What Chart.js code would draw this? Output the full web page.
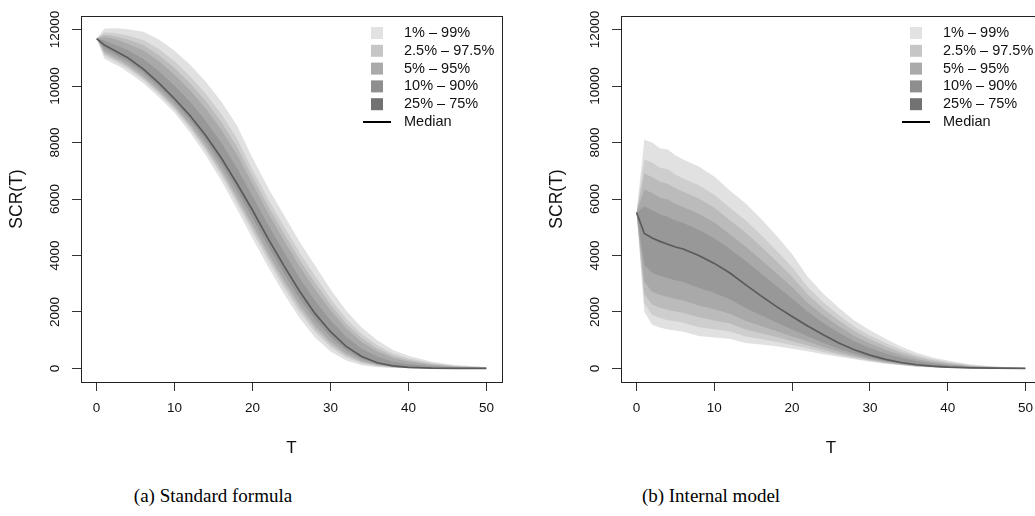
<!DOCTYPE html>
<html>
<head>
<meta charset="utf-8">
<title>SCR fan charts</title>
<script src="https://cdn.jsdelivr.net/npm/chart.js@4.4.1/dist/chart.umd.min.js"></script>
<style>
  body { margin: 0; width: 1035px; height: 516px; overflow: hidden; background: #fff; position: relative; }
  .panel { position: absolute; top: 0; }
  .caption { position: absolute; top: 485px; width: 400px; text-align: center; font: 19px "Liberation Serif", "Times New Roman", serif; color: #000; }
</style>
</head>
<body>
<div class="panel" style="left:0"><canvas id="chartA" width="520" height="470"></canvas></div>
<div class="panel" style="left:520px"><canvas id="chartB" width="540" height="470"></canvas></div>
<div class="caption" style="left:13px">(a) Standard formula</div>
<div class="caption" style="left:511px">(b) Internal model</div>
<script>
// axis ticks
const xTicks = [0, 10, 20, 30, 40, 50];
const yTicks = [0, 2000, 4000, 6000, 8000, 10000, 12000];

// band labels, outer to inner
const bandLabels = ['1% \u2013 99%', '2.5% \u2013 97.5%', '5% \u2013 95%', '10% \u2013 90%', '25% \u2013 75%'];
const bandFill = ['#e1e1e1', '#cecece', '#bbbbbb', '#a9a9a9', '#989898'];
const legendFill = ['#e2e2e2', '#c6c6c6', '#aaaaaa', '#8e8e8e', '#727272'];

// (a) standard formula: quantiles of SCR(T)
const tA = [0, 1, 2, 3, 4, 6, 8, 10, 12, 14, 16, 18, 20, 22, 24, 26, 28, 30, 32, 34, 36, 38, 40, 43, 46, 50];
const q01A  = [11680, 10970, 10820, 10680, 10500, 10100, 9600, 9050, 8350, 7550, 6650, 5650, 4600, 3600, 2650, 1800, 1100, 600, 280, 110, 40, 15, 5, 1, 0, 0];
const q025A = [11680, 11080, 10930, 10780, 10610, 10210, 9710, 9160, 8480, 7700, 6830, 5850, 4820, 3820, 2870, 2010, 1290, 750, 390, 180, 75, 30, 12, 2, 1, 0];
const q05A  = [11680, 11140, 10990, 10850, 10680, 10280, 9780, 9230, 8570, 7800, 6940, 5970, 4960, 3960, 3010, 2140, 1410, 850, 460, 220, 100, 42, 17, 4, 1, 0];
const q10A  = [11680, 11210, 11060, 10920, 10750, 10350, 9850, 9300, 8650, 7900, 7050, 6100, 5100, 4100, 3150, 2280, 1530, 950, 530, 265, 120, 52, 22, 6, 2, 0];
const q25A  = [11680, 11320, 11170, 11020, 10870, 10470, 9970, 9420, 8790, 8060, 7230, 6310, 5330, 4330, 3380, 2490, 1720, 1110, 645, 340, 160, 70, 30, 9, 3, 1];
const q50A  = [11680, 11450, 11300, 11150, 11000, 10600, 10100, 9550, 8950, 8250, 7450, 6550, 5600, 4600, 3650, 2750, 1950, 1300, 780, 420, 200, 90, 40, 12, 4, 1];
const q75A  = [11680, 11610, 11500, 11390, 11270, 10960, 10520, 10010, 9440, 8760, 7990, 7100, 6100, 5090, 4140, 3220, 2410, 1710, 1120, 700, 420, 240, 150, 75, 35, 14];
const q90A  = [11680, 11740, 11680, 11600, 11500, 11260, 10880, 10400, 9850, 9200, 8450, 7580, 6530, 5500, 4550, 3630, 2800, 2050, 1420, 935, 600, 370, 245, 125, 62, 26];
const q95A  = [11680, 11820, 11780, 11720, 11650, 11450, 11090, 10640, 10100, 9470, 8730, 7860, 6780, 5750, 4800, 3870, 3040, 2260, 1590, 1080, 710, 450, 300, 160, 78, 33];
const q975A = [11680, 11900, 11890, 11840, 11790, 11630, 11310, 10880, 10350, 9730, 9010, 8150, 7040, 6000, 5050, 4120, 3280, 2470, 1770, 1220, 820, 530, 360, 190, 95, 40];
const q99A  = [11680, 12030, 12050, 12040, 12010, 11920, 11650, 11250, 10750, 10150, 9450, 8600, 7450, 6400, 5450, 4500, 3650, 2800, 2050, 1450, 1000, 650, 450, 240, 120, 50];

// (b) internal model: quantiles of SCR(T)
const tB = [0, 1, 2, 3, 4, 5, 6, 8, 10, 12, 14, 16, 18, 20, 22, 24, 26, 28, 30, 32, 34, 36, 38, 40, 43, 46, 50];
const q01B  = [5520, 2000, 1550, 1450, 1380, 1340, 1300, 1150, 1100, 1050, 900, 850, 790, 700, 610, 500, 410, 330, 240, 170, 110, 60, 35, 20, 8, 3, 1];
const q025B = [5520, 2310, 1890, 1790, 1710, 1670, 1620, 1460, 1390, 1310, 1130, 1040, 940, 830, 710, 580, 465, 365, 265, 185, 120, 70, 40, 23, 9, 3, 1];
const q05B  = [5520, 2640, 2260, 2150, 2080, 2020, 1970, 1810, 1700, 1590, 1380, 1250, 1110, 960, 815, 660, 520, 405, 290, 205, 135, 80, 48, 27, 11, 4, 1];
const q10B  = [5520, 3060, 2720, 2610, 2530, 2470, 2410, 2230, 2100, 1940, 1690, 1500, 1320, 1130, 950, 760, 600, 455, 325, 225, 150, 90, 55, 30, 13, 5, 2];
const q25B  = [5520, 3670, 3390, 3280, 3190, 3120, 3060, 2860, 2670, 2450, 2140, 1880, 1630, 1380, 1140, 910, 700, 530, 380, 260, 170, 100, 62, 35, 15, 6, 2];
const q50B  = [5520, 4780, 4620, 4500, 4400, 4300, 4230, 4000, 3720, 3380, 2970, 2570, 2190, 1840, 1500, 1190, 900, 660, 470, 320, 210, 130, 80, 45, 20, 8, 3];
const q75B  = [5520, 5740, 5600, 5460, 5370, 5240, 5150, 4910, 4610, 4230, 3810, 3360, 2920, 2480, 2010, 1610, 1260, 960, 725, 530, 375, 255, 175, 115, 55, 26, 9];
const q90B  = [5520, 6340, 6210, 6050, 5980, 5830, 5720, 5480, 5170, 4750, 4320, 3850, 3370, 2880, 2320, 1880, 1490, 1150, 885, 665, 480, 330, 230, 155, 75, 37, 14];
const q95B  = [5520, 6900, 6780, 6610, 6540, 6380, 6260, 6020, 5690, 5250, 4810, 4320, 3800, 3250, 2620, 2120, 1700, 1330, 1035, 790, 575, 405, 285, 195, 97, 48, 17];
const q975B = [5520, 7400, 7290, 7110, 7050, 6870, 6730, 6490, 6150, 5690, 5250, 4730, 4170, 3590, 2880, 2340, 1890, 1480, 1165, 900, 660, 470, 335, 230, 115, 57, 21];
const q99B  = [5520, 8100, 8000, 7800, 7750, 7550, 7400, 7150, 6800, 6300, 5850, 5300, 4700, 4050, 3250, 2650, 2150, 1700, 1350, 1050, 780, 560, 400, 280, 140, 70, 25];

const sans = '"Liberation Sans", Arial, Helvetica, sans-serif';

function series(t, ys) {
  return t.map((x, i) => ({ x: x, y: ys[i] }));
}

// bands given outer to inner as [lower, upper]
function buildDatasets(t, bands, mid) {
  const sets = [{
    data: series(t, mid), borderColor: '#5a5a5a', borderWidth: 1.7,
    pointRadius: 0, fill: false, order: 0
  }];
  bands.forEach((b, k) => {
    const loIndex = sets.length + 1;
    const order = bands.length - k;
    sets.push({
      data: series(t, b[1]), borderWidth: 0, borderColor: 'rgba(0,0,0,0)',
      backgroundColor: bandFill[k], pointRadius: 0, fill: loIndex, order: order
    });
    sets.push({
      data: series(t, b[0]), borderWidth: 0, borderColor: 'rgba(0,0,0,0)',
      pointRadius: 0, fill: false, order: order
    });
  });
  return sets;
}

// box round the plot region
const frame = {
  id: 'frame',
  afterDatasetsDraw(chart) {
    const a = chart.chartArea;
    const ctx = chart.ctx;
    ctx.save();
    ctx.strokeStyle = '#222';
    ctx.lineWidth = 1;
    ctx.strokeRect(Math.round(a.left) + 0.5, Math.round(a.top) + 0.5,
      Math.round(a.right - a.left), Math.round(a.bottom - a.top));
    ctx.restore();
  }
};

// legend in the top right corner of the plot
const fanLegend = {
  id: 'fanLegend',
  afterDraw(chart) {
    const a = chart.chartArea;
    const ctx = chart.ctx;
    const x0 = a.right;
    ctx.save();
    ctx.font = '14.5px ' + sans;
    ctx.textBaseline = 'middle';
    ctx.fillStyle = '#111';
    bandLabels.forEach((lab, i) => {
      const y = a.top + 17 + i * 17.8;
      ctx.fillStyle = legendFill[i];
      ctx.fillRect(x0 - 131, y - 6, 12, 12);
      ctx.fillStyle = '#111';
      ctx.fillText(lab, x0 - 98, y);
    });
    const ym = a.top + 17 + 5 * 17.8;
    ctx.strokeStyle = '#000';
    ctx.lineWidth = 2;
    ctx.beginPath();
    ctx.moveTo(x0 - 139, ym);
    ctx.lineTo(x0 - 111, ym);
    ctx.stroke();
    ctx.fillText('Median', x0 - 98, ym);
    ctx.restore();
  }
};

function makeChart(id, t, bands, mid, axisWidth, padRight) {
  return new Chart(document.getElementById(id), {
    type: 'line',
    data: { datasets: buildDatasets(t, bands, mid) },
    plugins: [frame, fanLegend],
    options: {
      responsive: false,
      animation: false,
      layout: { padding: { top: 16, right: padRight, left: 0, bottom: 0 } },
      elements: { line: { tension: 0 } },
      plugins: { legend: { display: false }, tooltip: { enabled: false } },
      scales: {
        x: {
          type: 'linear', min: -2, max: 52,
          afterBuildTicks: s => { s.ticks = xTicks.map(v => ({ value: v })); },
          afterFit: s => { s.height = 88; },
          border: { display: false },
          grid: { drawOnChartArea: false, tickLength: 9, tickColor: '#333' },
          ticks: { maxRotation: 0, autoSkip: false, padding: 9, color: '#111',
                   font: { family: sans, size: 13.5 }, callback: v => String(v) },
          title: { display: true, text: 'T', color: '#111',
                   font: { family: sans, size: 17 }, padding: { bottom: 11 } }
        },
        y: {
          type: 'linear', min: -480, max: 12480,
          afterBuildTicks: s => { s.ticks = yTicks.map(v => ({ value: v })); },
          afterFit: s => { s.width = axisWidth; },
          border: { display: false },
          grid: { drawOnChartArea: false, tickLength: 9, tickColor: '#333' },
          ticks: { minRotation: 90, maxRotation: 90, autoSkip: false, crossAlign: 'center',
                   padding: -2, color: '#111', font: { family: sans, size: 13.5 },
                   callback: v => String(v) },
          title: { display: true, text: 'SCR(T)', color: '#111',
                   font: { family: sans, size: 17.5 }, padding: { top: axisWidth - 74 } }
        }
      }
    }
  });
}

makeChart('chartA', tA,
  [[q01A, q99A], [q025A, q975A], [q05A, q95A], [q10A, q90A], [q25A, q75A]], q50A, 81, 18);
makeChart('chartB', tB,
  [[q01B, q99B], [q025B, q975B], [q05B, q95B], [q10B, q90B], [q25B, q75B]], q50B, 101, 19);
</script>
</body>
</html>
